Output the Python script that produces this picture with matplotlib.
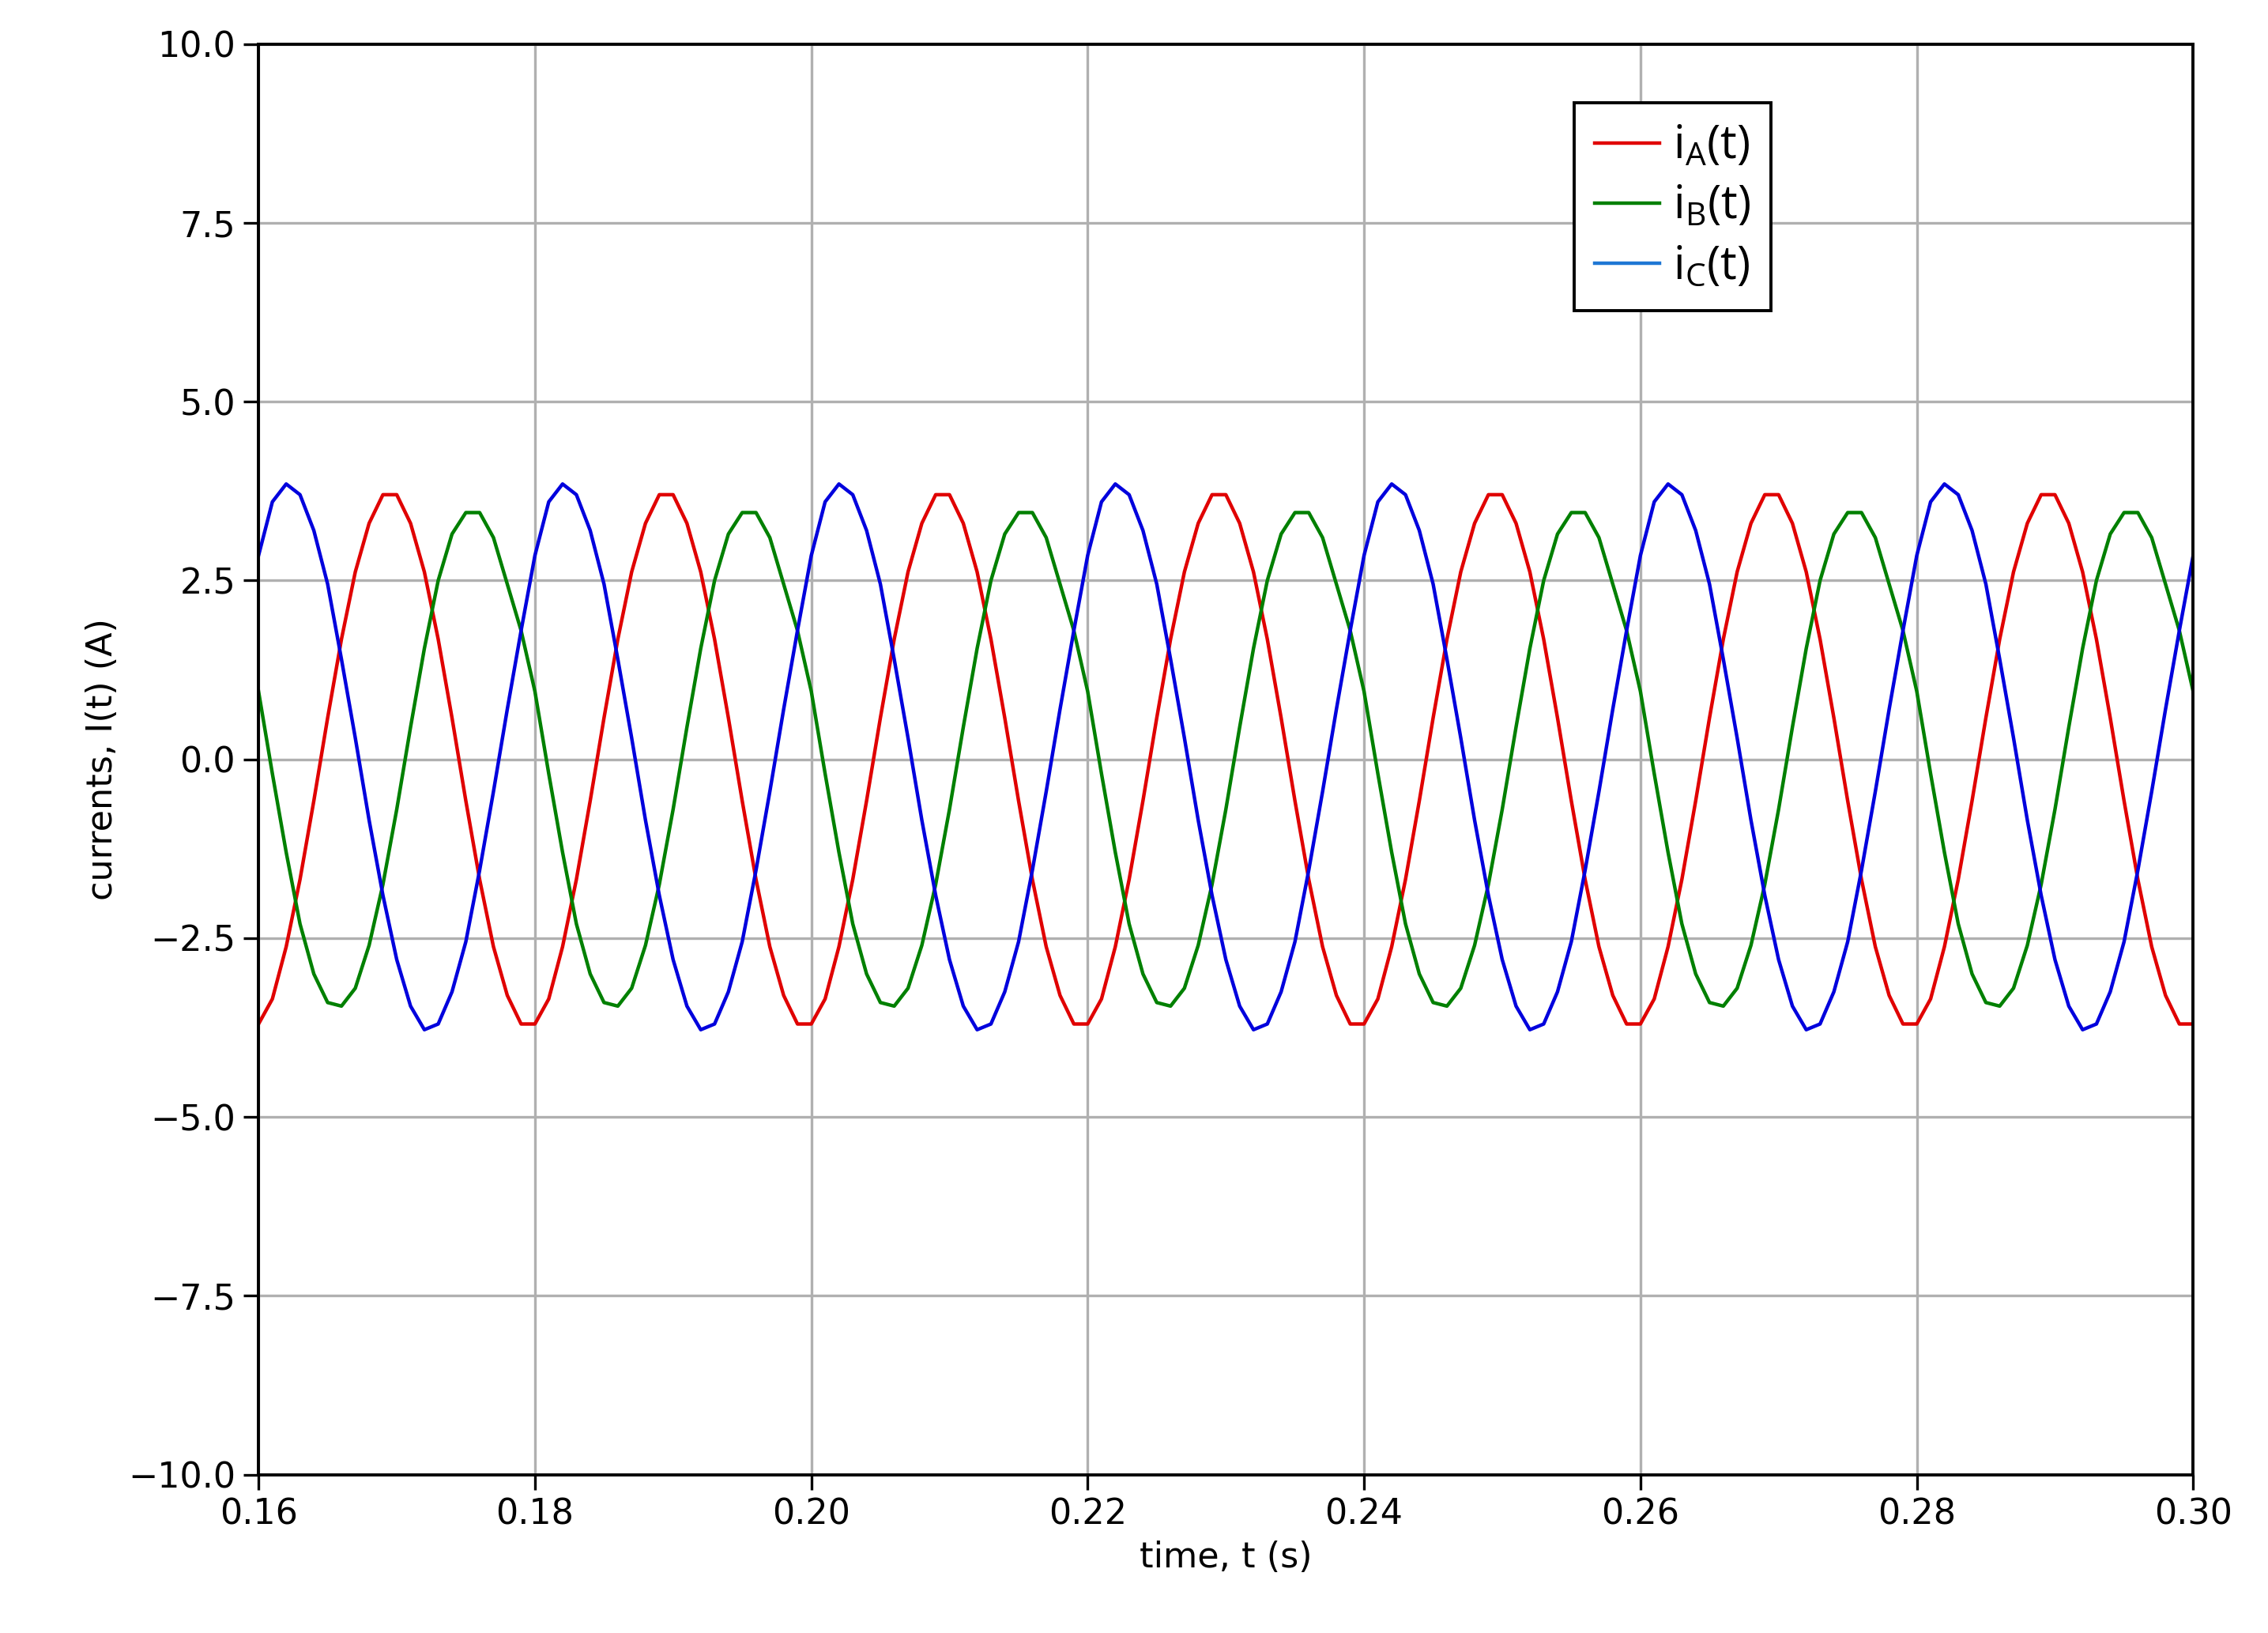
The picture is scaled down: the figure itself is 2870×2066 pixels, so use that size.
import numpy as np
import matplotlib.pyplot as plt
from matplotlib.lines import Line2D

# one cycle (20 ms, 1 ms steps) of each phase
cycle_a = [-3.70, -3.35, -2.62, -1.68, -0.58, 0.58, 1.68, 2.62, 3.30, 3.70,
           3.70, 3.30, 2.62, 1.68, 0.58, -0.58, -1.68, -2.62, -3.30, -3.70]
cycle_b = [0.95, -0.20, -1.30, -2.30, -3.00, -3.40, -3.45, -3.20, -2.60, -1.75,
           -0.70, 0.45, 1.55, 2.50, 3.15, 3.45, 3.45, 3.10, 2.45, 1.80]
cycle_c = [2.85, 3.60, 3.85, 3.70, 3.20, 2.45, 1.40, 0.30, -0.85, -1.90,
           -2.80, -3.45, -3.78, -3.70, -3.25, -2.55, -1.55, -0.45, 0.70, 1.80]

t = np.arange(141) * 0.001 + 0.16
i_a = np.tile(cycle_a, 8)[:141]
i_b = np.tile(cycle_b, 8)[:141]
i_c = np.tile(cycle_c, 8)[:141]

xticks = [0.16, 0.18, 0.20, 0.22, 0.24, 0.26, 0.28, 0.30]
yticks = [-10.0, -7.5, -5.0, -2.5, 0.0, 2.5, 5.0, 7.5, 10.0]

plt.rcParams['font.family'] = ['DejaVu Sans']
fig = plt.figure(figsize=(14.35, 10.33), dpi=200)
ax = fig.add_axes([0.114, 0.097, 0.853, 0.876])

ax.plot(t, i_a, color='#e00000', lw=1.6)
ax.plot(t, i_b, color='#008000', lw=1.6)
ax.plot(t, i_c, color='#0000dd', lw=1.6)

ax.set_xlim(0.16, 0.30)
ax.set_ylim(-10, 10)
ax.set_xticks(xticks)
ax.set_xticklabels(['%.2f' % x for x in xticks])
ax.set_yticks(yticks)
ax.set_yticklabels([('%.1f' % y).replace('-', '\u2212') for y in yticks])
ax.tick_params(labelsize=16, length=7, width=1.2)
ax.grid(True, color='#b0b0b0', lw=1.2)
for s in ax.spines.values():
    s.set_linewidth(1.4)
ax.set_xlabel('time, t (s)', fontsize=16)
ax.set_ylabel('currents, I(t) (A)', fontsize=16)

handles = [Line2D([], [], color='#e00000', lw=1.6),
           Line2D([], [], color='#008000', lw=1.6),
           Line2D([], [], color='#1f77d4', lw=1.6)]
labels = [r'$\mathregular{i_A(t)}$', r'$\mathregular{i_B(t)}$', r'$\mathregular{i_C(t)}$']
leg = ax.legend(handles, labels, loc='upper left', bbox_to_anchor=(0.668, 0.975),
                prop={'family': 'Open Sans', 'size': 21}, fancybox=False,
                framealpha=1, edgecolor='black', handlelength=1.4,
                handletextpad=0.3, borderpad=0.45, labelspacing=0.3)
leg.get_frame().set_linewidth(1.4)

fig.savefig('out.png')
